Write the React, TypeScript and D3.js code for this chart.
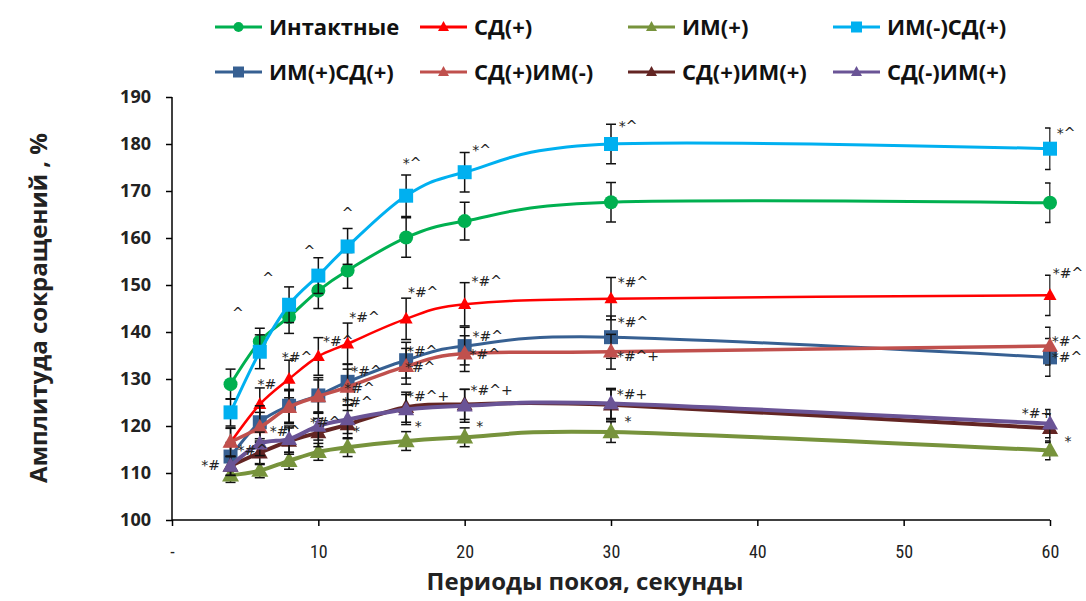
import { useEffect, useRef } from "react";
import * as d3 from "d3";

// rest periods, seconds
const restPeriods = [4, 6, 8, 10, 12, 16, 20, 30, 60];
const xTicks = [0, 10, 20, 30, 40, 50, 60];
const yTicks = [100, 110, 120, 130, 140, 150, 160, 170, 180, 190];

const intact = [128.9, 138, 143.2, 148.8, 153.1, 160.1, 163.6, 167.6, 167.5];
const sdPlus = [116.5, 124.6, 130, 134.8, 137.5, 142.8, 145.9, 147.1, 147.8];
const imPlus = [109.5, 110.5, 112.6, 114.5, 115.5, 116.8, 117.6, 118.7, 114.8];
const imMinusSdPlus = [122.9, 135.8, 145.8, 152, 158.2, 169, 174, 180, 179];
const imPlusSdPlus = [113.5, 120.8, 124.3, 126.5, 129.4, 134, 137, 138.9, 134.6];
const sdPlusImMinus = [116.6, 119.7, 124, 126.3, 128.3, 132.7, 135.4, 135.8, 137];
const sdPlusImPlus = [111.5, 114.3, 116.8, 118.6, 120.3, 124, 124.6, 124.5, 119.5];
const sdMinusImPlus = [111.5, 116.2, 117.2, 120, 121.4, 123.5, 124.3, 124.8, 120.5];

// error bar half-lengths
const intactErr = [3.2, 2.8, 3.5, 3.8, 3.8, 4.2, 4, 4.2, 4.2];
const sdPlusErr = [3, 3.5, 4, 4, 4.4, 4.4, 4.6, 4.5, 4.3];
const imPlusErr = [1.5, 1.5, 1.8, 1.8, 2, 2, 2, 2.2, 2];
const imMinusSdPlusErr = [2.9, 3.6, 3.8, 3.8, 3.8, 4.4, 4.2, 4.2, 4.4];
const imPlusSdPlusErr = [3, 3.5, 3.5, 3.8, 3.8, 3.8, 4, 4.5, 4];
const sdPlusImMinusErr = [3, 3.2, 3.5, 3.5, 3.8, 3.8, 3.8, 3.7, 4];
const sdPlusImPlusErr = [2, 2.5, 2.8, 3, 3, 3.2, 3.2, 3.2, 3];
const sdMinusImPlusErr = [2, 2.5, 2.8, 3, 3, 3.2, 3.5, 3.2, 3];

// significance marks per point
const intactMarks = ["", "", "", "", "", "", "", "", ""];
const sdPlusMarks = ["", "*#", "*#^", "*#^", "*#^", "*#^", "*#^", "*#^", "*#^"];
const imPlusMarks = ["", "", "", "", "*", "*", "*", "*", "*"];
const imMinusSdPlusMarks = ["", "^", "^", "^", "^", "*^", "*^", "*^", "*^"];
const imPlusSdPlusMarks = ["", "", "", "", "*#^", "*#^", "*#^", "*#^", "*#^"];
const sdPlusImMinusMarks = ["", "", "", "", "*#^", "*#^", "*#^", "*#^+", "*#^"];
const sdPlusImPlusMarks = ["", "", "", "", "", "", "", "", ""];
const sdMinusImPlusMarks = ["*#", "*#^", "*#^", "*#^", "*#^", "*#^+", "*#^+", "*#+", "*#+"];

const seriesNames = [
  "Интактные", "СД(+)", "ИМ(+)", "ИМ(-)СД(+)",
  "ИМ(+)СД(+)", "СД(+)ИМ(-)", "СД(+)ИМ(+)", "СД(-)ИМ(+)",
];

// label offsets (px) from the point, per series
const markOffsets = {
  "СД(+)": [[0, 0], [7, -20], [8, -22], [20, -15], [17, -27], [17, -27], [22, -23], [22, -17], [18, -22]],
  "ИМ(+)": [[0, 0], [0, 0], [0, 0], [0, 0], [9, -16], [12, -15], [15, -11], [17, -11], [18, -9]],
  "ИМ(-)СД(+)": [[0, 0], [-22, -39], [-21, -27], [-9, -25], [0, -33], [6, -33], [17, -22], [17, -18], [16, -16]],
  "ИМ(+)СД(+)": [[0, 0], [0, 0], [0, 0], [0, 0], [19, -11], [16, -9], [23, -10], [22, -15], [17, 0]],
  "СД(+)ИМ(-)": [[0, 0], [0, 0], [0, 0], [0, 0], [12, 1], [14, 1], [20, 0], [27, 4], [17, -5]],
  "СД(-)ИМ(+)": [[-20, -1], [-7, 6], [-4, -8], [7, -4], [10, -17], [22, -13], [27, -16], [21, -9], [-13, -11]],
};

const App = () => {
  const svgRef = useRef(null);

  useEffect(() => {
    const svg = d3.select(svgRef.current);
    svg.selectAll("*").remove();

    const width = 1086;
    const height = 601;
    svg.attr("width", width).attr("height", height);

    const boldFont = "'Open Sans', Lato, sans-serif";

    const x = d3.scaleLinear().domain([0, 60]).range([172, 1050]);
    const y = d3.scaleLinear().domain([100, 190]).range([520, 97]);

    const series = [
      { name: seriesNames[0], values: intact, err: intactErr, marks: intactMarks, color: "#00B050", shape: "circle", size: 7, lw: 3 },
      { name: seriesNames[1], values: sdPlus, err: sdPlusErr, marks: sdPlusMarks, color: "#FF0000", shape: "triangle", size: 13, lw: 2.5 },
      { name: seriesNames[2], values: imPlus, err: imPlusErr, marks: imPlusMarks, color: "#77933C", shape: "triangle", size: 17, lw: 4 },
      { name: seriesNames[3], values: imMinusSdPlus, err: imMinusSdPlusErr, marks: imMinusSdPlusMarks, color: "#00B0F0", shape: "square", size: 14, lw: 3 },
      { name: seriesNames[4], values: imPlusSdPlus, err: imPlusSdPlusErr, marks: imPlusSdPlusMarks, color: "#376092", shape: "square", size: 14, lw: 3 },
      { name: seriesNames[5], values: sdPlusImMinus, err: sdPlusImMinusErr, marks: sdPlusImMinusMarks, color: "#C0504D", shape: "triangle", size: 16, lw: 3.5 },
      { name: seriesNames[6], values: sdPlusImPlus, err: sdPlusImPlusErr, marks: sdPlusImPlusMarks, color: "#632523", shape: "triangle", size: 16, lw: 4 },
      { name: seriesNames[7], values: sdMinusImPlus, err: sdMinusImPlusErr, marks: sdMinusImPlusMarks, color: "#6A5496", shape: "triangle", size: 16, lw: 4 },
    ];

    const markerPath = (shape, size) => {
      if (shape === "square") return `M${-size / 2},${-size / 2}h${size}v${size}h${-size}Z`;
      if (shape === "triangle") {
        const h = size * 0.9;
        return `M0,${-h * 0.6}L${size / 2},${h * 0.4}L${-size / 2},${h * 0.4}Z`;
      }
      return null;
    };

    const drawMarker = (g, shape, size, color, cx, cy) => {
      if (shape === "circle") {
        g.append("circle").attr("cx", cx).attr("cy", cy).attr("r", size).attr("fill", color);
      } else {
        g.append("path")
          .attr("d", markerPath(shape, size))
          .attr("transform", `translate(${cx},${cy})`)
          .attr("fill", color);
      }
    };

    // clip for error bars (Excel cuts caps at plot edge)
    svg.append("defs").append("clipPath").attr("id", "plot-clip")
      .append("rect").attr("x", 150).attr("y", 60).attr("width", 1050 - 150 + 0.5).attr("height", 480);

    // Axes
    const yAxis = d3.axisLeft(y).tickValues(yTicks).tickSize(6).tickPadding(15);
    const gy = svg.append("g").attr("transform", "translate(172,0)").call(yAxis);
    gy.select(".domain").attr("stroke", "#000").attr("stroke-width", 1.5).attr("d", `M-0,${y(190)}V${y(100)}`);
    gy.selectAll(".tick line").attr("stroke", "#000").attr("stroke-width", 1.5);
    gy.selectAll(".tick text")
      .style("font-family", boldFont)
      .style("font-weight", "bold")
      .style("font-size", "18px")
      .attr("fill", "#222");

    const xAxis = d3.axisBottom(x).tickValues(xTicks).tickSize(6).tickPadding(19)
      .tickFormat((d) => (d === 0 ? "-" : String(d)));
    const gx = svg.append("g").attr("transform", `translate(0,${y(100)})`).call(xAxis);
    gx.select(".domain").attr("stroke", "#000").attr("stroke-width", 1.5).attr("d", `M${x(0)},0H${x(60)}`);
    gx.selectAll(".tick line").attr("stroke", "#000").attr("stroke-width", 1.5);
    gx.selectAll(".tick text")
      .style("font-family", "'Liberation Sans Narrow', 'Roboto Condensed', Roboto, sans-serif")
      .style("font-size", "18px")
      .attr("fill", "#222");

    // Axis titles
    svg.append("text")
      .attr("x", 585)
      .attr("y", 590)
      .attr("text-anchor", "middle")
      .style("font-family", boldFont)
      .style("font-weight", "bold")
      .style("font-size", "24px")
      .attr("fill", "#222")
      .text("Периоды покоя, секунды");

    svg.append("text")
      .attr("transform", "translate(47,308) rotate(-90)")
      .attr("text-anchor", "middle")
      .style("font-family", boldFont)
      .style("font-weight", "bold")
      .style("font-size", "24px")
      .attr("fill", "#222")
      .text("Амплитуда сокращений , %");

    // Lines, error bars, markers
    const line = d3.line()
      .x((d) => x(d[0]))
      .y((d) => y(d[1]))
      .curve(d3.curveCardinal.tension(0));

    const plot = svg.append("g");
    series.forEach((s) => {
      const g = plot.append("g");
      const pts = restPeriods.map((t, i) => [t, s.values[i]]);
      g.append("path")
        .attr("d", line(pts))
        .attr("fill", "none")
        .attr("stroke", s.color)
        .attr("stroke-width", s.lw);

      const eb = g.append("g").attr("clip-path", "url(#plot-clip)").attr("stroke", "#111").attr("stroke-width", 1.5);
      restPeriods.forEach((t, i) => {
        const cx = x(t);
        const top = y(s.values[i] + s.err[i]);
        const bot = y(s.values[i] - s.err[i]);
        eb.append("line").attr("x1", cx).attr("x2", cx).attr("y1", top).attr("y2", bot);
        eb.append("line").attr("x1", cx - 5).attr("x2", cx + 5).attr("y1", top).attr("y2", top);
        eb.append("line").attr("x1", cx - 5).attr("x2", cx + 5).attr("y1", bot).attr("y2", bot);
      });

      restPeriods.forEach((t, i) => {
        drawMarker(g, s.shape, s.size, s.color, x(t), y(s.values[i]));
      });
    });

    // Significance marks
    const labels = svg.append("g")
      .style("font-family", "'DejaVu Sans', sans-serif")
      .style("font-size", "14px")
      .attr("fill", "#222");
    series.forEach((s) => {
      const offs = markOffsets[s.name];
      if (!offs) return;
      s.marks.forEach((m, i) => {
        if (!m) return;
        labels.append("text")
          .attr("x", x(restPeriods[i]) + offs[i][0])
          .attr("y", y(s.values[i]) + offs[i][1])
          .attr("dy", "0.35em")
          .attr("text-anchor", "middle")
          .text(m);
      });
    });

    // Legend
    const legendCols = [215, 420, 628, 833];
    const legendRows = [27, 72];
    const legend = svg.append("g");
    series.forEach((s, i) => {
      const lx = legendCols[i % 4];
      const ly = legendRows[Math.floor(i / 4)];
      const item = legend.append("g");
      item.append("line")
        .attr("x1", lx).attr("x2", lx + 47)
        .attr("y1", ly).attr("y2", ly)
        .attr("stroke", s.color)
        .attr("stroke-width", 3);
      drawMarker(item, s.shape, s.shape === "circle" ? 5 : 11, s.color, lx + 23.5, ly);
      item.append("text")
        .attr("x", lx + 54)
        .attr("y", ly)
        .attr("dy", "0.35em")
        .style("font-family", boldFont)
        .style("font-weight", "bold")
        .style("font-size", "22px")
        .attr("fill", "#111")
        .text(s.name);
    });
  }, []);

  return <svg ref={svgRef} style={{ position: "absolute", left: 0, top: 0, display: "block" }} />;
};

export default App;
